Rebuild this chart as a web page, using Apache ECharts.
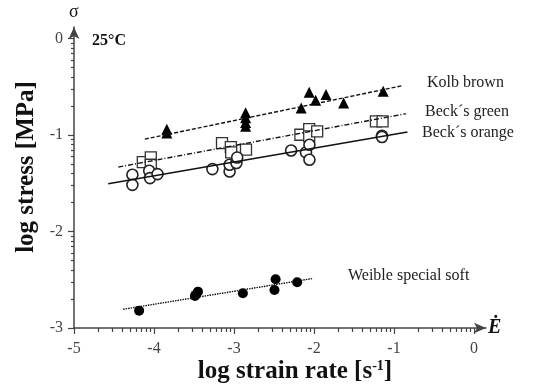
<!DOCTYPE html>
<html>
<head>
<meta charset="utf-8">
<script src="https://cdn.jsdelivr.net/npm/echarts@6/dist/echarts.min.js"></script>
<style>
  html, body { margin: 0; padding: 0; background: #fff; }
  #chart { width: 534px; height: 390px; }
</style>
</head>
<body>
<div id="chart"></div>
<script>
// measured points [log strain rate, log stress]
var kolbBrown = [[-3.84, -0.94], [-3.84, -0.98], [-2.855, -0.77], [-2.855, -0.82], [-2.855, -0.87], [-2.855, -0.91],
  [-2.16, -0.72], [-2.06, -0.557], [-1.98, -0.64], [-1.85, -0.58], [-1.63, -0.668], [-1.135, -0.547]]
var becksGreen = [[-4.14, -1.28], [-4.04, -1.232], [-4.04, -1.308], [-3.15, -1.083], [-3.04, -1.125], [-3.035, -1.18],
  [-2.85, -1.152], [-2.17, -0.997], [-2.06, -0.938], [-2.06, -1.014], [-1.96, -0.962], [-1.226, -0.859], [-1.143, -0.859]]
var becksOrange = [[-4.27, -1.412], [-4.27, -1.516], [-4.06, -1.37], [-4.05, -1.446], [-3.956, -1.405], [-3.27, -1.353],
  [-3.055, -1.378], [-3.055, -1.308], [-2.97, -1.29], [-2.96, -1.232], [-2.286, -1.16], [-2.1, -1.18],
  [-2.057, -1.10], [-2.057, -1.256], [-1.15, -1.007], [-1.15, -1.02]]
var weible = [[-4.186, -2.82], [-3.48, -2.657], [-3.488, -2.668], [-3.45, -2.623], [-2.889, -2.64],
  [-2.48, -2.495], [-2.494, -2.606], [-2.21, -2.526]]

// fitted lines, start and end
var kolbFit = [[-4.115, -1.042], [-0.894, -0.488]]
var greenFit = [[-4.447, -1.332], [-0.853, -0.779]]
var orangeFit = [[-4.572, -1.505], [-0.832, -0.969]]
var weibleFit = [[-4.385, -2.806], [-2.024, -2.488]]

var xMajor = [-5, -4, -3, -2, -1, 0]
var yMajor = [-3, -2, -1, 0]

// log minor ticks inside each decade
function logMinor(from, to) {
  var out = []
  for (var d = from; d < to; d++) {
    for (var k = 2; k <= 9; k++) out.push(d + Math.log10(k))
  }
  return out
}
var xMinor = logMinor(-5, 0)
var yMinor = logMinor(-3, 0)

var axisColor = '#444'
var serif = '"Liberation Serif", "DejaVu Serif", serif'

var myChart = echarts.init(document.getElementById('chart'))

function xAx(ticks, len, labels) {
  return {
    type: 'value', min: -5, max: 0.15, position: 'bottom',
    axisLine: { show: labels, onZero: false, symbol: ['none', 'arrow'], symbolSize: [8, 12], lineStyle: { color: axisColor, width: 1.5 } },
    axisTick: { show: true, customValues: ticks, length: len, lineStyle: { color: axisColor, width: 1.2 } },
    axisLabel: { show: labels, customValues: xMajor, margin: 13, color: '#444', fontFamily: serif, fontSize: 16 },
    splitLine: { show: false }
  }
}
function yAx(ticks, len, labels) {
  return {
    type: 'value', min: -3, max: 0.12, position: 'left',
    axisLine: { show: labels, onZero: false, symbol: ['none', 'arrow'], symbolSize: [8, 12], lineStyle: { color: axisColor, width: 1.5 } },
    axisTick: { show: true, customValues: ticks, length: len, lineStyle: { color: axisColor, width: 1.2 } },
    axisLabel: { show: labels, customValues: yMajor, margin: 11, color: '#444', fontFamily: serif, fontSize: 16 },
    splitLine: { show: false }
  }
}

function fit(data, type) {
  return {
    type: 'line', data: data, symbol: 'none', silent: true,
    lineStyle: { color: '#111', width: type === 'solid' ? 1.6 : 1.4, type: type }
  }
}

var option = {
  animation: false,
  grid: { left: 74, right: 48, top: 27, bottom: 62 },
  xAxis: [xAx(xMajor, 6, true), xAx(xMinor, 4, false)],
  yAxis: [yAx(yMajor, 6, true), yAx(yMinor, 3, false)],
  series: [
    fit(kolbFit, [4, 2]),
    fit(greenFit, [5, 2, 1, 2]),
    fit(orangeFit, 'solid'),
    fit(weibleFit, [1.5, 1]),
    {
      name: 'Kolb brown', type: 'scatter', data: kolbBrown, symbol: 'triangle', symbolSize: 11,
      itemStyle: { color: '#000', opacity: 1 }
    },
    {
      name: 'Beck´s green', type: 'scatter', data: becksGreen, symbol: 'rect', symbolSize: 11,
      itemStyle: { color: '#fff', borderColor: '#333', borderWidth: 1.3, opacity: 1 }
    },
    {
      name: 'Beck´s orange', type: 'scatter', data: becksOrange, symbol: 'circle', symbolSize: 11,
      itemStyle: { color: '#fff', borderColor: '#222', borderWidth: 1.6, opacity: 1 }
    },
    {
      name: 'Weible special soft', type: 'scatter', data: weible, symbol: 'circle', symbolSize: 10,
      itemStyle: { color: '#000', opacity: 1 }
    }
  ],
  graphic: [
    { type: 'text', left: 427, top: 75, style: { text: 'Kolb brown', font: '16px ' + serif, fill: '#222' } },
    { type: 'text', left: 425, top: 104, style: { text: 'Beck´s green', font: '16px ' + serif, fill: '#222' } },
    { type: 'text', left: 422, top: 125, style: { text: 'Beck´s orange', font: '16px ' + serif, fill: '#222' } },
    { type: 'text', left: 348, top: 268, style: { text: 'Weible special soft', font: '16px ' + serif, fill: '#222' } },
    { type: 'text', left: 92, top: 33, style: { text: '25°C', font: 'bold 16px ' + serif, fill: '#111' } },
    { type: 'text', left: 69, top: 3, style: { text: 'σ', font: '18px ' + serif, fill: '#111' } },
    { type: 'text', left: 488, top: 318, style: { text: 'Ė', font: 'italic bold 20px ' + serif, fill: '#111' } },
    {
      type: 'text', x: 27, y: 167, rotation: Math.PI / 2,
      style: { text: 'log stress [MPa]', font: 'bold 25px ' + serif, fill: '#111', align: 'center', verticalAlign: 'middle' }
    },
    {
      type: 'text', x: 295, y: 372,
      style: {
        text: '{a|log strain rate [s}{s|-1}{a|]}',
        align: 'center', verticalAlign: 'middle',
        rich: {
          a: { font: 'bold 25px ' + serif, fill: '#111' },
          s: { font: 'bold 14px ' + serif, fill: '#111', padding: [0, 0, 12, 0] }
        }
      }
    }
  ]
}
myChart.setOption(option)
</script>
</body>
</html>
